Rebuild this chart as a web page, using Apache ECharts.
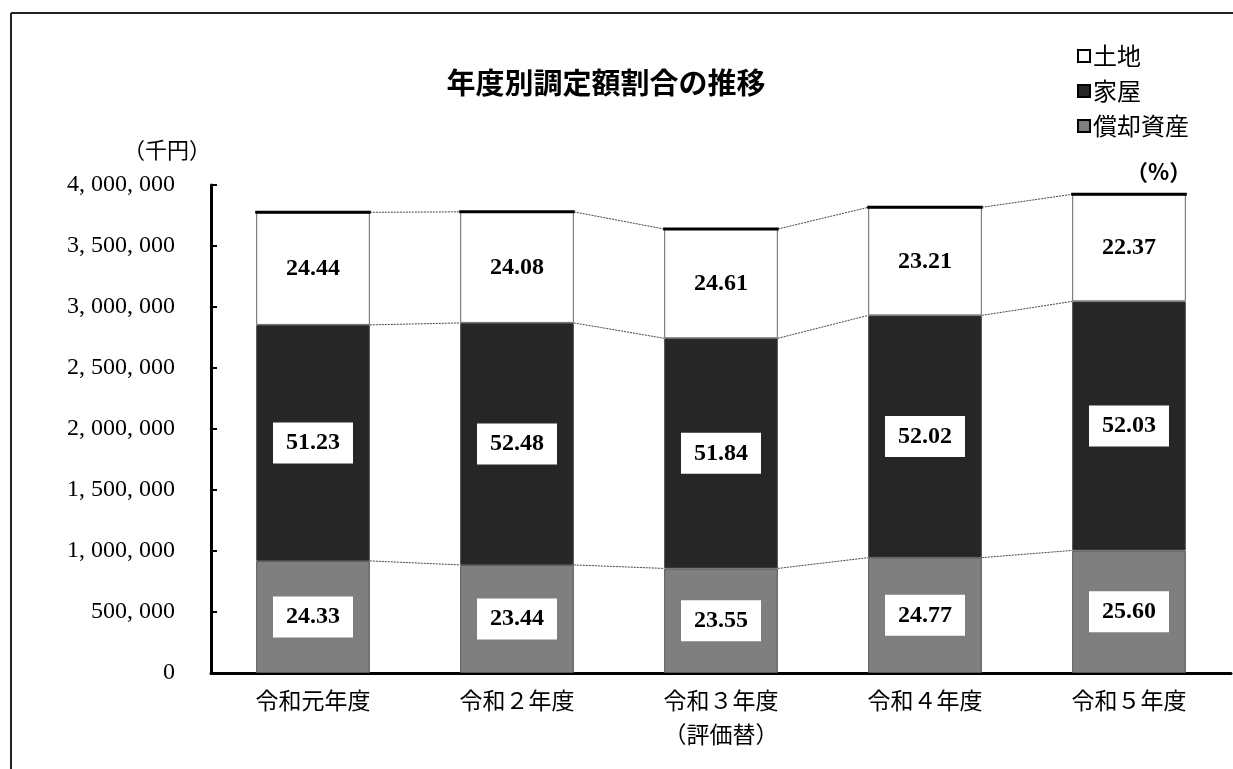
<!DOCTYPE html>
<html>
<head>
<meta charset="utf-8">
<script src="https://cdn.jsdelivr.net/npm/echarts@6/dist/echarts.min.js"></script>
<style>
html,body{margin:0;padding:0;background:#fff;}
#c{width:1233px;height:769px;}
</style>
</head>
<body>
<div id="c"></div>
<script>
// 単位：千円
const categories = ['令和元年度', '令和２年度', '令和３年度\n（評価替）', '令和４年度', '令和５年度'];
const seriesNames = ['土地', '家屋', '償却資産'];
const landValues = [922900, 910200, 895600, 885900, 877700];
const houseValues = [1934400, 1983700, 1886500, 1985600, 2041500];
const depreValues = [918700, 886000, 857000, 945500, 1004500];
const landPct = [24.44, 24.08, 24.61, 23.21, 22.37];
const housePct = [51.23, 52.48, 51.84, 52.02, 52.03];
const deprePct = [24.33, 23.44, 23.55, 24.77, 25.60];
const yMin = 0, yMax = 4000000, yInterval = 500000;

const CJK = "'Noto Sans CJK JP', sans-serif";
const NUM = "'Liberation Serif', serif";
const BAR_RATIO = 0.557;

const chart = echarts.init(document.getElementById('c'), null, {renderer: 'canvas'});

function fmtTick(v) {
  return String(v).replace(/\B(?=(\d{3})+(?!\d))/g, ', ');
}

function barLabel(pcts) {
  return {
    show: true,
    position: 'inside',
    formatter: p => pcts[p.dataIndex].toFixed(2),
    fontFamily: NUM,
    fontWeight: 'bold',
    fontSize: 24,
    color: '#000',
    backgroundColor: '#fff',
    padding: [9, 13, 8, 13]
  };
}

const levels = categories.map((c, i) => [
  depreValues[i],
  depreValues[i] + houseValues[i],
  depreValues[i] + houseValues[i] + landValues[i]
]);

const option = {
  animation: false,
  backgroundColor: '#fff',
  title: {
    text: '年度別調定額割合の推移',
    left: 601,
    top: 63,
    textAlign: 'center',
    textStyle: {fontFamily: CJK, fontSize: 29, fontWeight: 'bold', color: '#000'}
  },
  legend: {
    data: seriesNames,
    orient: 'vertical',
    left: 1072,
    top: 39,
    icon: 'rect',
    itemWidth: 12,
    itemHeight: 12,
    itemGap: 11,
    itemStyle: {borderColor: '#000', borderWidth: 2},
    textStyle: {fontFamily: CJK, fontSize: 24, color: '#000', padding: [0, 0, 0, -2]}
  },
  grid: {left: 211, right: 2, top: 185, bottom: 96, containLabel: false},
  xAxis: {
    type: 'category',
    data: categories,
    axisLine: {lineStyle: {color: '#000', width: 3}},
    axisTick: {inside: true, length: 6, lineStyle: {color: '#000', width: 2}},
    axisLabel: {fontFamily: CJK, fontSize: 23, color: '#000', margin: 10, lineHeight: 34}
  },
  yAxis: {
    type: 'value',
    min: yMin, max: yMax, interval: yInterval,
    splitLine: {show: false},
    axisLine: {show: true, lineStyle: {color: '#000', width: 3}},
    axisTick: {show: true, inside: true, length: 6, lineStyle: {color: '#000', width: 2}},
    axisLabel: {fontFamily: NUM, fontSize: 24, color: '#000', margin: 36, formatter: fmtTick}
  },
  series: [
    {
      name: '償却資産', type: 'bar', stack: 'total', barWidth: (BAR_RATIO * 100) + '%',
      data: depreValues,
      itemStyle: {color: '#7f7f7f', borderColor: '#555', borderWidth: 1},
      label: barLabel(deprePct)
    },
    {
      name: '家屋', type: 'bar', stack: 'total',
      data: houseValues,
      itemStyle: {color: '#262626', borderColor: '#444', borderWidth: 1},
      label: barLabel(housePct)
    },
    {
      name: '土地', type: 'bar', stack: 'total',
      data: landValues,
      itemStyle: {color: '#ffffff', borderColor: '#666', borderWidth: 1},
      label: barLabel(landPct)
    },
    {
      name: 'connectors', type: 'custom', z: 5, silent: true,
      data: categories.map((c, i) => [i, levels[i][2]]),
      encode: {x: 0, y: 1},
      renderItem: function (params, api) {
        const i = params.dataIndex;
        const hw = api.size([1, 0])[0] * BAR_RATIO / 2;
        const children = [];
        const top = api.coord([i, levels[i][2]]);
        children.push({
          type: 'line',
          shape: {x1: top[0] - hw - 1, y1: top[1], x2: top[0] + hw + 1, y2: top[1]},
          style: {stroke: '#000', lineWidth: 3}
        });
        if (i < categories.length - 1) {
          for (let k = 0; k < 3; k++) {
            const a = api.coord([i, levels[i][k]]);
            const b = api.coord([i + 1, levels[i + 1][k]]);
            children.push({
              type: 'line',
              shape: {x1: a[0] + hw, y1: a[1], x2: b[0] - hw, y2: b[1]},
              style: {stroke: '#444', lineWidth: 1, lineDash: [2, 1]}
            });
          }
        }
        return {type: 'group', children: children};
      }
    }
  ],
  graphic: [
    {type: 'line', shape: {x1: 11, y1: 13, x2: 1233, y2: 13}, style: {stroke: '#222', lineWidth: 2}},
    {type: 'line', shape: {x1: 11, y1: 13, x2: 11, y2: 769}, style: {stroke: '#222', lineWidth: 2}},
    {type: 'text', left: 123, top: 139, style: {text: '（千円）', font: "22px " + CJK, fill: '#000'}},
    {type: 'text', left: 1126, top: 161, style: {text: '（%）', font: "bold 22px " + CJK, fill: '#000'}}
  ]
};

chart.setOption(option);
</script>
</body>
</html>
